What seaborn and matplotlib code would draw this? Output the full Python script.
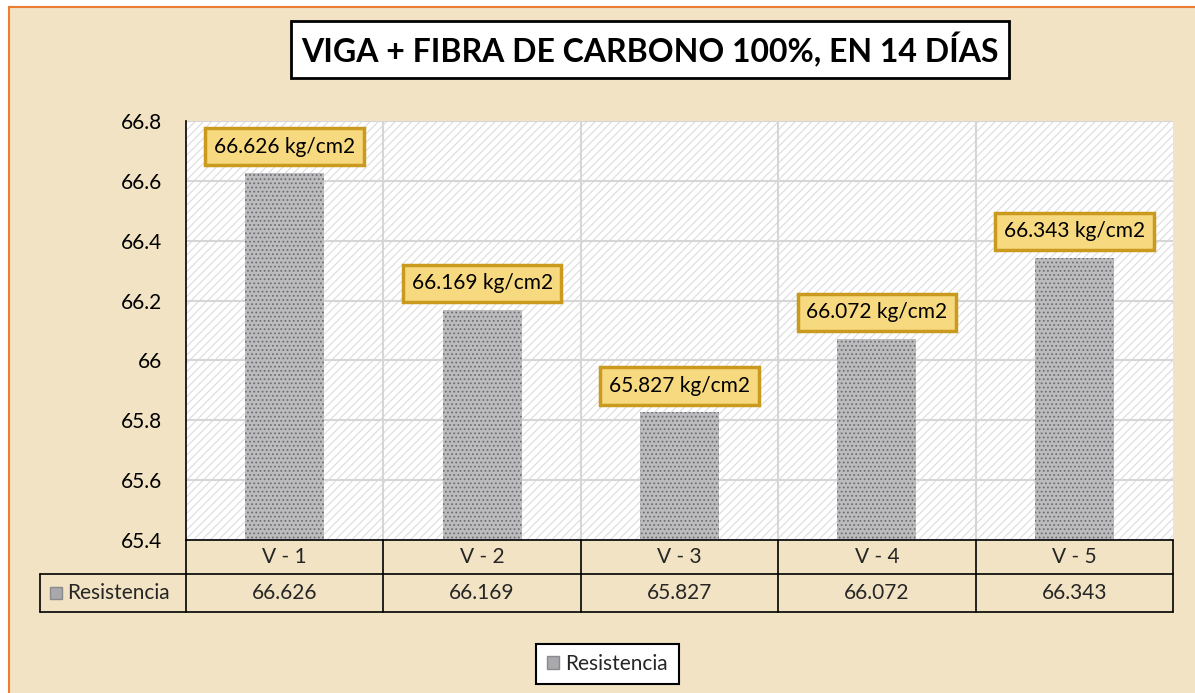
import matplotlib
matplotlib.use("Agg")
import matplotlib.pyplot as plt
import seaborn as sns
from matplotlib.patches import Rectangle, Patch
from matplotlib.ticker import FuncFormatter

categorias = ["V - 1", "V - 2", "V - 3", "V - 4", "V - 5"]
resistencia = [66.626, 66.169, 65.827, 66.072, 66.343]
serie = "Resistencia"
titulo = "VIGA + FIBRA DE CARBONO 100%, EN 14 DÍAS"
y_ticks = [65.4, 65.6, 65.8, 66.0, 66.2, 66.4, 66.6, 66.8]

W, H = 1195, 693


def fig_box(x0, y0, x1, y1):
    # pixel box (top-left origin) -> figure fraction rect
    return [x0 / W, 1 - y1 / H, (x1 - x0) / W, (y1 - y0) / H]


sns.set_theme(style="white")
plt.rcParams["font.family"] = ["Lato", "DejaVu Sans"]
plt.rcParams["hatch.linewidth"] = 0.8

fig = plt.figure(figsize=(W / 100, H / 100), dpi=100)
fig.patch.set_facecolor("white")

# parchment background with orange border
fondo = Rectangle((9 / W, -0.1), 1.2, 1 - 7 / H + 0.1, transform=fig.transFigure,
                  facecolor="#f1e3c3", edgecolor="#ed7d31", linewidth=1.5, zorder=-10)
fig.patches.append(fondo)

ax = fig.add_axes(fig_box(186, 121, 1173, 540))
ax.set_facecolor("white")
ax.add_patch(Rectangle((0, 0), 1, 1, transform=ax.transAxes, facecolor="white",
                       edgecolor="#dcdcdc", hatch="////", linewidth=0, zorder=0))

sns.barplot(x=categorias, y=resistencia, ax=ax, width=0.4, color="#bcbcbf",
            edgecolor="#6f6f73", hatch="....", linewidth=0, zorder=3)

ax.set_ylim(65.4, 66.8)
ax.set_xlim(-0.5, 4.5)
ax.set_yticks(y_ticks)
ax.yaxis.set_major_formatter(FuncFormatter(lambda v, p: f"{v:g}"))
ax.tick_params(axis="y", labelsize=15, colors="black", pad=17, length=0)
ax.set_xticks([])
ax.set_xlabel("")
ax.set_ylabel("")
for y in y_ticks:
    ax.axhline(y, color="#d6d6d6", lw=1.5, zorder=1)
for x in [0.5, 1.5, 2.5, 3.5]:
    ax.axvline(x, color="#d6d6d6", lw=1.5, zorder=1)
for s in ["top", "right", "bottom"]:
    ax.spines[s].set_visible(False)
ax.spines["left"].set_color("black")
ax.spines["left"].set_linewidth(1.2)

for i, v in enumerate(resistencia):
    ax.annotate(f"{v:.3f} kg/cm2", xy=(i, v), xytext=(0, 19), textcoords="offset points",
                ha="center", va="center", fontsize=15, color="black", zorder=5,
                bbox=dict(boxstyle="square,pad=0.42", facecolor="#f7da80",
                          edgecolor="#c99a1e", linewidth=2.5))

# data table under the chart
tax = fig.add_axes(fig_box(40, 540, 1173, 612))
x_left = -0.5 - (186 - 40) / 197.4
tax.set_xlim(x_left, 4.5)
tax.set_ylim(0, 72)
tax.axis("off")
tax.patch.set_alpha(0)
lk = dict(color="black", lw=1.2, clip_on=False)
tax.plot([-0.5, 4.5], [72, 72], **lk)
tax.plot([x_left, 4.5], [38, 38], **lk)
tax.plot([x_left, 4.5], [0, 0], **lk)
tax.plot([x_left, x_left], [0, 38], **lk)
for x in [-0.5, 0.5, 1.5, 2.5, 3.5, 4.5]:
    tax.plot([x, x], [0, 72], **lk)
for i, (c, v) in enumerate(zip(categorias, resistencia)):
    tax.text(i, 55, c, ha="center", va="center", fontsize=15)
    tax.text(i, 19, f"{v:.3f}", ha="center", va="center", fontsize=15)
tax.plot([x_left + 0.08], [19], marker="s", markersize=8, color="#a9a9ad",
         markeredgecolor="#8a8a8e", clip_on=False)
tax.text(x_left + 0.135, 19, serie, ha="left", va="center", fontsize=15)

leg = fig.legend(handles=[Patch(facecolor="#a9a9ad", edgecolor="#8a8a8e", label=serie)],
                 loc="center", bbox_to_anchor=(607.5 / W, 1 - 664 / H), fontsize=15,
                 frameon=True, fancybox=False, handlelength=0.6, handleheight=0.6,
                 handletextpad=0.3, borderpad=0.5)
leg.get_frame().set_edgecolor("black")
leg.get_frame().set_linewidth(1.5)
leg.get_frame().set_facecolor("white")
leg.get_frame().set_alpha(1)

fig.text(650 / W, 1 - 49.5 / H, titulo, ha="center", va="center", fontsize=23,
         fontweight="bold", color="black",
         bbox=dict(boxstyle="square,pad=0.33", facecolor="white", edgecolor="black", linewidth=2))

fig.savefig("out.png", dpi=100)
